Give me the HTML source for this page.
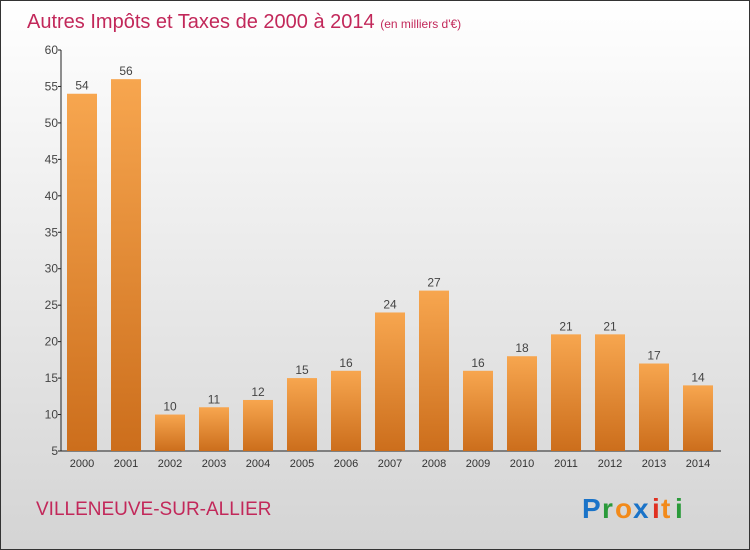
<!DOCTYPE html>
<html><head><meta charset="utf-8"><style>
body{margin:0}
#c{width:748px;height:548px;border:1px solid #333;background:linear-gradient(#fff,#f2f2f2 30%,#d4d4d4);position:relative;font-family:"Liberation Sans",sans-serif;overflow:hidden}
</style></head><body>
<div id="c">
<svg width="748" height="548" xmlns="http://www.w3.org/2000/svg">
<defs><linearGradient id="g" x1="0" y1="0" x2="0" y2="1"><stop offset="0" stop-color="#f7a64f"/><stop offset="1" stop-color="#cc6e1c"/></linearGradient></defs>
<text x="26" y="27" font-size="20" fill="#c2285a">Autres Impôts et Taxes de 2000 à 2014 <tspan font-size="12">(en milliers d'€)</tspan></text>
<g id="axes"></g><g id="bars"></g>
<text x="35" y="514" font-size="19" fill="#c2285a">VILLENEUVE-SUR-ALLIER</text>
<g font-size="28" font-weight="bold" font-family="Liberation Sans,sans-serif">
<text x="581" y="517" fill="#1a73c8">P</text><text x="601" y="517" fill="#2a9a3a">r</text><text x="614" y="517" fill="#f28a1a">o</text><text x="632" y="517" fill="#1a73c8">x</text><text x="651" y="517" fill="#e03020">i</text><text x="660" y="517" fill="#f28a1a">t</text><text x="674" y="517" fill="#2a9a3a">i</text></g>
</svg></div>
<script>
const years=["2000","2001","2002","2003","2004","2005","2006","2007","2008","2009","2010","2011","2012","2013","2014"];
const values=[54,56,10,11,12,15,16,24,27,16,18,21,21,17,14];
const ticks=[5,10,15,20,25,30,35,40,45,50,55,60];
const NS="http://www.w3.org/2000/svg";
const y=v=>450-(v-5)*401/55, x=i=>81+i*44;
function el(t,a,p){const e=document.createElementNS(NS,t);for(const k in a)e.setAttribute(k,a[k]);p.appendChild(e);return e;}
const ax=document.getElementById('axes'),bs=document.getElementById('bars');
let l=el('line',{x1:60,y1:49,x2:60,y2:450,stroke:'#222'},ax);


l=el('line',{x1:60,y1:450,x2:720,y2:450,stroke:'#222'},ax);


ticks.forEach(t=>{el('line',{x1:57,x2:60,y1:y(t),y2:y(t),stroke:'#222'},ax);
const e=el('text',{x:57,y:y(t)+4,'font-size':12,fill:'#444','text-anchor':'end'},ax);e.textContent=t;

});
years.forEach((yr,i)=>{const v=values[i];
const r=el('rect',{x:x(i)-15,y:y(v),width:30,height:450-y(v),fill:'url(#g)'},bs);


const t=el('text',{x:x(i),y:y(v)-4,'font-size':12,fill:'#444','text-anchor':'middle'},bs);t.textContent=v;


const xl=el('text',{x:x(i),y:466,'font-size':11,fill:'#333','text-anchor':'middle'},ax);xl.textContent=yr;

});
</script>
</body></html>
